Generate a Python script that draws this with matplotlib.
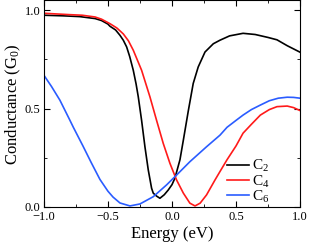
import numpy as np
import matplotlib
matplotlib.use('Agg')
import matplotlib.pyplot as plt
from matplotlib.ticker import MultipleLocator

plt.rcParams['font.family'] = 'Liberation Serif'
plt.rcParams['mathtext.fontset'] = 'custom'
plt.rcParams['mathtext.rm'] = 'Liberation Serif'
plt.rcParams['mathtext.it'] = 'Liberation Serif:italic'

# C2 (black)
c2_x = [-1.0, -0.85, -0.72, -0.6, -0.55, -0.5, -0.484, -0.44, -0.406, -0.38,
        -0.354, -0.33, -0.302, -0.28, -0.263, -0.237, -0.211, -0.185, -0.159,
        -0.146, -0.12, -0.094, -0.06, -0.029, 0.0, 0.023, 0.0625, 0.089, 0.128,
        0.166, 0.205, 0.258, 0.323, 0.375, 0.45, 0.555, 0.65, 0.75, 0.82, 0.9, 1.0]
c2_y = [0.975, 0.972, 0.968, 0.958, 0.948, 0.93, 0.919, 0.9, 0.873, 0.848,
        0.814, 0.765, 0.695, 0.625, 0.56, 0.44, 0.306, 0.188, 0.095,
        0.07, 0.055, 0.044, 0.062, 0.086, 0.113, 0.146, 0.24, 0.34, 0.49,
        0.628, 0.712, 0.788, 0.83, 0.848, 0.87, 0.883, 0.877, 0.862, 0.85, 0.82, 0.787]

# C4 (red)
c4_x = [-1.0, -0.8, -0.7, -0.6, -0.55, -0.484, -0.43, -0.38, -0.34, -0.302,
        -0.237, -0.172, -0.12, -0.068, -0.016, 0.036, 0.089, 0.14, 0.18, 0.22,
        0.27, 0.336, 0.375, 0.43, 0.5, 0.555, 0.62, 0.69, 0.76, 0.82, 0.9,
        0.95, 1.0]
c4_y = [0.985, 0.978, 0.975, 0.966, 0.955, 0.932, 0.91, 0.88, 0.845, 0.797,
        0.695, 0.56, 0.44, 0.323, 0.222, 0.137, 0.07, 0.019, 0.005, 0.019,
        0.061, 0.137, 0.18, 0.24, 0.31, 0.375, 0.42, 0.467, 0.495, 0.51, 0.513,
        0.505, 0.49]

# C6 (blue)
c6_x = [-1.0, -0.94, -0.875, -0.8, -0.77, -0.695, -0.63, -0.5625, -0.5, -0.46,
        -0.406, -0.328, -0.25, -0.146, -0.042, 0.036, 0.14, 0.27, 0.375, 0.43,
        0.5, 0.555, 0.62, 0.69, 0.76, 0.83, 0.9, 0.95, 1.0]
c6_y = [0.67, 0.612, 0.543, 0.445, 0.405, 0.31, 0.225, 0.14, 0.08, 0.05,
        0.02, 0.005, 0.015, 0.052, 0.112, 0.162, 0.23, 0.306, 0.365, 0.405,
        0.44, 0.467, 0.495, 0.518, 0.54, 0.553, 0.558, 0.557, 0.553]

fig = plt.figure(figsize=(3.09, 2.44), dpi=100)
ax = fig.add_axes([0.142, 0.152, 0.829, 0.846])

ax.plot(c2_x, c2_y, color='black', linewidth=1.2, label='C$_2$')
ax.plot(c4_x, c4_y, color='#ff1a1a', linewidth=1.2, label='C$_4$')
ax.plot(c6_x, c6_y, color='#2a5cff', linewidth=1.2, label='C$_6$')

ax.set_xlim(-1.0, 1.0)
ax.set_ylim(0.0, 1.05)
ax.xaxis.set_major_locator(MultipleLocator(0.5))
ax.xaxis.set_minor_locator(MultipleLocator(0.25))
ax.yaxis.set_major_locator(MultipleLocator(0.5))
ax.yaxis.set_minor_locator(MultipleLocator(0.25))
ax.tick_params(which='both', direction='in', top=True, right=True, labelsize=9)
ax.tick_params(axis='x', pad=2.8)
ax.tick_params(axis='y', pad=2.5)
ax.tick_params(which='major', length=4)
ax.tick_params(which='minor', length=2)

ax.set_xlabel('Energy (eV)', fontsize=12, labelpad=2.5)
ax.set_ylabel('Conductance (G$_0$)', fontsize=12, labelpad=1)

ax.legend(loc='lower left', frameon=False, fontsize=11, handlelength=1.45,
          handletextpad=0.2, labelspacing=-0.05, borderpad=0, borderaxespad=0,
          bbox_to_anchor=(0.715, 0.01))

fig.savefig('out.png', dpi=100)
